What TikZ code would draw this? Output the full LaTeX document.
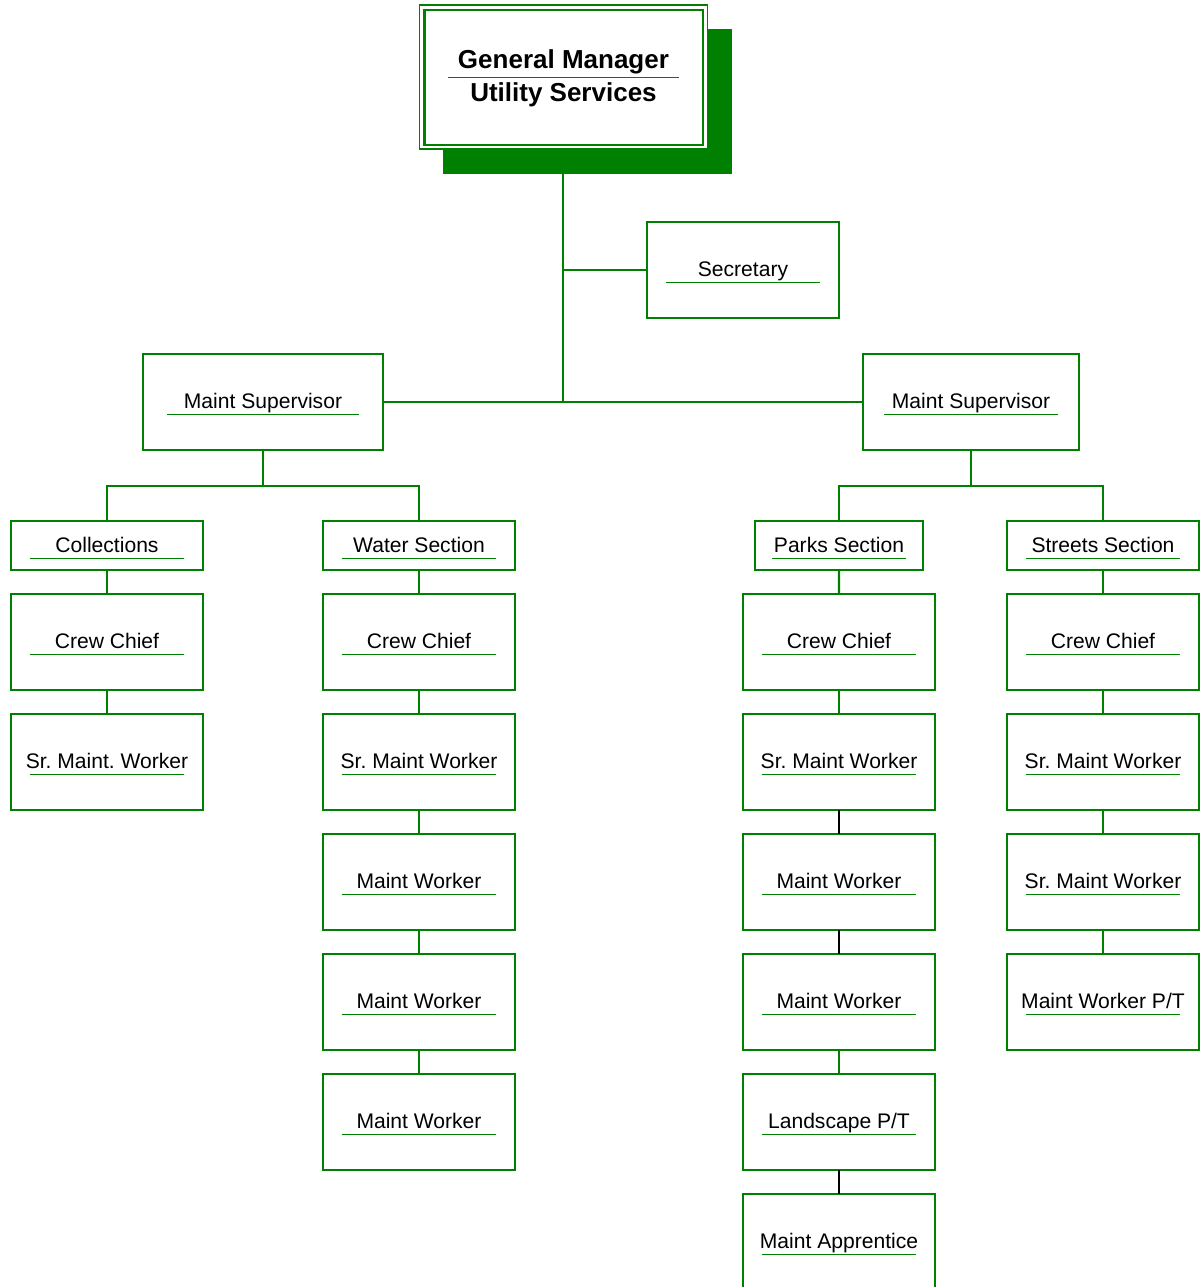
\documentclass[tikz,border=0pt]{standalone}
\usepackage{fontspec}
\setmainfont{Liberation Sans}
\usetikzlibrary{calc}
\definecolor{og}{RGB}{0,128,0}
\tikzset{
  box/.style={draw=og, line width=1.15pt, fill=white, inner sep=0pt, outer sep=0pt, anchor=north west},
  lab/.style={anchor=base, inner sep=0pt, font=\fontsize{12}{14}\selectfont},
  uline/.style={draw=og, line width=1.05pt},
  conn/.style={draw=og, line width=1.15pt},
  bconn/.style={draw=black, line width=1.15pt},
}
% name, x1, y1, x2, y2, baseline offset, underline inset, text
\newcommand\obox[8]{%
  \node[box, minimum width={(#4-#2)*0.569055pt}, minimum height={(#5-#3)*0.569055pt}] (#1) at (#2,#3) {};
  \node[lab] (#1-t) at ($(#1.north)+(0,#6)$) {#8};
  \draw[uline] ($(#1.north west)+(#7,#6+6.5)$) -- ($(#1.north east)+(-#7,#6+6.5)$);
}
\frenchspacing
\begin{document}
\begin{tikzpicture}[x=0.02cm,y=-0.02cm]
\useasboundingbox (0,0) rectangle (1202,1287);
% General Manager
\node[fill=og, inner sep=0pt, outer sep=0pt, anchor=north west, minimum width={289*0.569055pt}, minimum height={145*0.569055pt}] (gmsh) at (443,29) {};
\node[draw=og, line width=0.85pt, fill=white, inner sep=0pt, outer sep=0pt, anchor=north west, minimum width={288*0.569055pt}, minimum height={144*0.569055pt}] (gm) at (419.5,5) {};
\draw[og, line width=1.15pt] ($(gm.north west)+(5,5)$) rectangle ($(gm.south east)+(-4,-4)$);
\node[anchor=base, inner sep=0pt, font=\bfseries\fontsize{14.8}{17}\selectfont] (gm-t1) at ($(gm.north)+(0,63.5)$) {General Manager};
\node[anchor=base, inner sep=0pt, font=\bfseries\fontsize{14.8}{17}\selectfont] (gm-t2) at ($(gm.north)+(0,96.5)$) {Utility Services};
\draw[uline] ($(gm.north west)+(28,72.5)$) -- ($(gm.north east)+(-28,72.5)$);

% Secretary and supervisors
\obox{sec}{647}{222}{839}{318}{54}{19}{Secretary}
\obox{ms1}{143}{354}{383}{450}{54}{24}{Maint Supervisor}
\obox{ms2}{863}{354}{1079}{450}{54}{21}{Maint Supervisor}

% Sections
\obox{col}{11}{521}{203}{570}{31}{19}{Collections}
\obox{wat}{323}{521}{515}{570}{31}{19}{Water Section}
\obox{par}{755}{521}{923}{570}{31}{17}{Parks Section}
\obox{str}{1007}{521}{1199}{570}{31}{19}{Streets Section}

% Column A
\obox{a1}{11}{594}{203}{690}{54}{19}{Crew Chief}
\obox{a2}{11}{714}{203}{810}{54}{19}{Sr. Maint. Worker}
% Column B
\obox{b1}{323}{594}{515}{690}{54}{19}{Crew Chief}
\obox{b2}{323}{714}{515}{810}{54}{19}{Sr. Maint Worker}
\obox{b3}{323}{834}{515}{930}{54}{19}{Maint Worker}
\obox{b4}{323}{954}{515}{1050}{54}{19}{Maint Worker}
\obox{b5}{323}{1074}{515}{1170}{54}{19}{Maint Worker}
% Column C
\obox{c1}{743}{594}{935}{690}{54}{19}{Crew Chief}
\obox{c2}{743}{714}{935}{810}{54}{19}{Sr. Maint Worker}
\obox{c3}{743}{834}{935}{930}{54}{19}{Maint Worker}
\obox{c4}{743}{954}{935}{1050}{54}{19}{Maint Worker}
\obox{c5}{743}{1074}{935}{1170}{54}{19}{Landscape P/T}
\obox{c6}{743}{1194}{935}{1292}{54}{19}{Maint Apprentice}
% Column D
\obox{d1}{1007}{594}{1199}{690}{54}{19}{Crew Chief}
\obox{d2}{1007}{714}{1199}{810}{54}{19}{Sr. Maint Worker}
\obox{d3}{1007}{834}{1199}{930}{54}{19}{Sr. Maint Worker}
\obox{d4}{1007}{954}{1199}{1050}{54}{19}{Maint Worker P/T}

% Connectors
\coordinate (j1) at (gm.south |- sec.west);
\coordinate (j2) at (gm.south |- ms1.east);
\draw[conn] (gm.south |- gmsh.south) -- (j2);
\draw[conn] (j1) -- (sec.west);
\draw[conn] (ms1.east) -- (ms2.west);

\coordinate (bl) at ($(ms1.south)+(0,36)$);
\draw[conn] (ms1.south) -- (bl);
\draw[conn] (col.north) |- (bl) -| (wat.north);
\coordinate (br) at ($(ms2.south)+(0,36)$);
\draw[conn] (ms2.south) -- (br);
\draw[conn] (par.north) |- (br) -| (str.north);

\draw[conn] (col.south) -- (a1.north);
\draw[conn] (a1.south) -- (a2.north);

\draw[conn] (wat.south) -- (b1.north);
\draw[conn] (b1.south) -- (b2.north);
\draw[conn] (b2.south) -- (b3.north);
\draw[conn] (b3.south) -- (b4.north);
\draw[conn] (b4.south) -- (b5.north);

\draw[conn] (par.south) -- (c1.north);
\draw[conn] (c1.south) -- (c2.north);
\draw[bconn] (c2.south) -- (c3.north);
\draw[bconn] (c3.south) -- (c4.north);
\draw[conn] (c4.south) -- (c5.north);
\draw[bconn] (c5.south) -- (c6.north);

\draw[conn] (str.south) -- (d1.north);
\draw[conn] (d1.south) -- (d2.north);
\draw[conn] (d2.south) -- (d3.north);
\draw[conn] (d3.south) -- (d4.north);
\end{tikzpicture}
\end{document}
